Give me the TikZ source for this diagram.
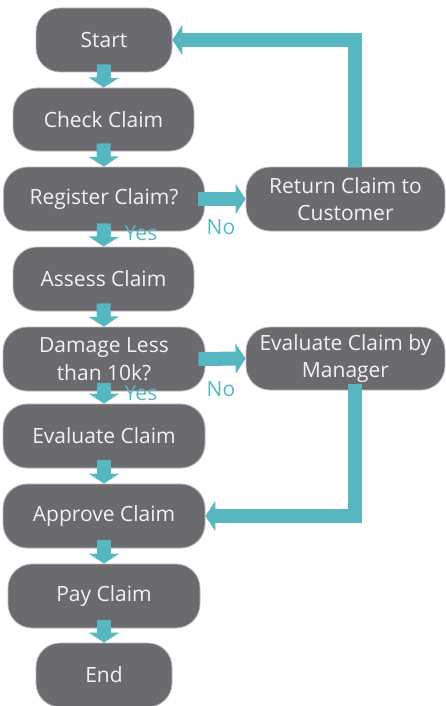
\documentclass[tikz,border=0pt]{standalone}
\usepackage{fontspec}
\setmainfont{Open Sans}
\usetikzlibrary{arrows.meta}
\definecolor{boxgray}{HTML}{6B6B6F}
\definecolor{teal}{HTML}{57B7C0}
\definecolor{txt}{HTML}{F2F2F2}
\tikzset{
  flowbox/.style={draw=gray!55, line width=0.8pt, fill=boxgray, rounded corners=24pt,
    text=txt, font=\fontsize{21}{27.5}\selectfont, align=center, inner sep=0pt},
  arr/.style={draw=teal, line width=14pt, -{Triangle[width=30pt,length=10pt]}},
  lbl/.style={text=teal, font=\fontsize{21}{25}\selectfont, inner sep=0pt}
}
\begin{document}
\begin{tikzpicture}[x=1pt,y=-1pt]
\useasboundingbox (0,0) rectangle (445,706);
\node[flowbox, minimum width=136pt, minimum height=64pt] (start) at (104,40) {Start};
\node[flowbox, minimum width=181pt, minimum height=63pt] (check) at (103.5,119.5) {Check Claim};
\node[flowbox, minimum width=201pt, minimum height=64pt] (reg) at (104,199) {Register Claim?};
\node[flowbox, minimum width=199pt, minimum height=64pt] (ret) at (345.5,199) {Return Claim to\\Customer};
\node[flowbox, minimum width=181pt, minimum height=64pt] (assess) at (103.5,279) {Assess Claim};
\node[flowbox, minimum width=202pt, minimum height=64pt] (dmg) at (104,359) {Damage Less\\than 10k?};
\node[flowbox, minimum width=199pt, minimum height=63pt] (mgr) at (345.5,358.5) {Evaluate Claim by\\Manager};
\node[flowbox, minimum width=202pt, minimum height=64pt] (evalc) at (104,436) {Evaluate Claim};
\node[flowbox, minimum width=202pt, minimum height=64pt] (appr) at (104,516) {Approve Claim};
\node[flowbox, minimum width=192pt, minimum height=64pt] (pay) at (104,596) {Pay Claim};
\node[flowbox, minimum width=136pt, minimum height=64pt] (end) at (104,675) {End};

\draw[arr] ([yshift=8pt]start.south) -- (check.north);
\draw[arr] ([yshift=8pt]check.south) -- (reg.north);
\draw[arr] ([yshift=8pt]reg.south) -- (assess.north);
\draw[arr] ([yshift=8pt]assess.south) -- (dmg.north);
\draw[arr] ([yshift=8pt]dmg.south) -- (evalc.north);
\draw[arr] ([yshift=8pt]evalc.south) -- (appr.north);
\draw[arr] ([yshift=8pt]appr.south) -- (pay.north);
\draw[arr] ([yshift=8pt]pay.south) -- (end.north);

\draw[arr] ([xshift=-7pt]reg.east) -- (ret.west);
\draw[arr] ([xshift=-7pt]dmg.east) -- (mgr.west);
\draw[arr] ([xshift=9.5pt]ret.north) |- (start.east);
\draw[arr] ([xshift=9.5pt,yshift=6pt]mgr.south) |- (appr.east);

\node[lbl] (yes1) at (141,233) {Yes};
\node[lbl] (no1) at (221,227) {No};
\node[lbl] (yes2) at (141,393) {Yes};
\node[lbl] (no2) at (221,389) {No};
\end{tikzpicture}
\end{document}
